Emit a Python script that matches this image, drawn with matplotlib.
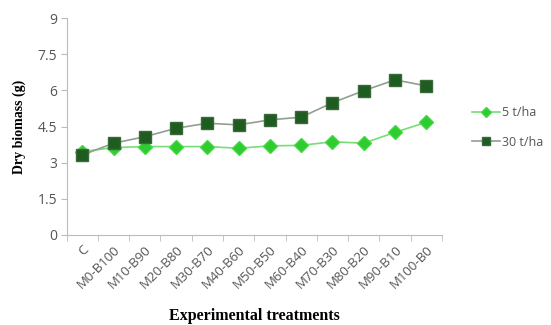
import numpy as np
import matplotlib
matplotlib.use('Agg')
import matplotlib.pyplot as plt

treatments = ['C', 'M0-B100', 'M10-B90', 'M20-B80', 'M30-B70', 'M40-B60',
              'M50-B50', 'M60-B40', 'M70-B30', 'M80-B20', 'M90-B10', 'M100-B0']
dose_5 = [3.46, 3.63, 3.67, 3.67, 3.67, 3.60, 3.70, 3.72, 3.87, 3.81, 4.26, 4.68]
dose_30 = [3.32, 3.81, 4.08, 4.43, 4.64, 4.57, 4.78, 4.89, 5.49, 5.99, 6.44, 6.19]
yticks = [0, 1.5, 3, 4.5, 6, 7.5, 9]
ytick_labels = ['0', '1.5', '3', '4.5', '6', '7.5', '9']

fig = plt.figure(figsize=(5.51, 3.25), dpi=100)
ax = fig.add_axes([0.121, 0.277, 0.681, 0.667])

x = np.arange(len(treatments))
ax.plot(x, dose_5, color='#77dd77', lw=1.2, marker='D', ms=7,
        mfc='#2ecc2e', mec='#44d844', label='5 t/ha')
ax.plot(x, dose_30, color='#8fa08f', lw=1.2, marker='s', ms=8,
        mfc='#1f5c1f', mec='#3a6a3a', label='30 t/ha')

ax.set_xlim(-0.5, len(treatments) - 0.5)
ax.set_ylim(0, 9)
ax.set_yticks(yticks)
ax.set_yticklabels(ytick_labels, fontsize=10, color='#555555', family='Open Sans')
ax.set_xticks(x)
ax.set_xticklabels(treatments, rotation=45, ha='right', rotation_mode='anchor',
                   fontsize=9.5, color='#555555', family='Open Sans')
ax.tick_params(axis='x', which='major', length=0, pad=6)
ax.set_xticks(np.arange(-0.5, len(treatments)), minor=True)
ax.tick_params(axis='x', which='minor', length=4, color='#bbbbbb')
ax.tick_params(axis='y', length=4, color='#bbbbbb', pad=3)

for s in ['top', 'right']:
    ax.spines[s].set_visible(False)
for s in ['left', 'bottom']:
    ax.spines[s].set_color('#bbbbbb')

ax.set_ylabel('Dry biomass (g)', fontsize=10, fontweight='bold',
              family='Liberation Serif', labelpad=8)
ax.set_xlabel('Experimental treatments', fontsize=11.5, fontweight='bold',
              family='Liberation Serif', labelpad=12)

fig.legend(loc='center left', bbox_to_anchor=(0.837, 0.608), frameon=False,
           prop={'family': 'Open Sans', 'size': 9}, handlelength=2.2,
           handletextpad=0.2, labelspacing=1.35, markerscale=0.8,
           labelcolor='#555555')

fig.savefig('out.png', dpi=100)
